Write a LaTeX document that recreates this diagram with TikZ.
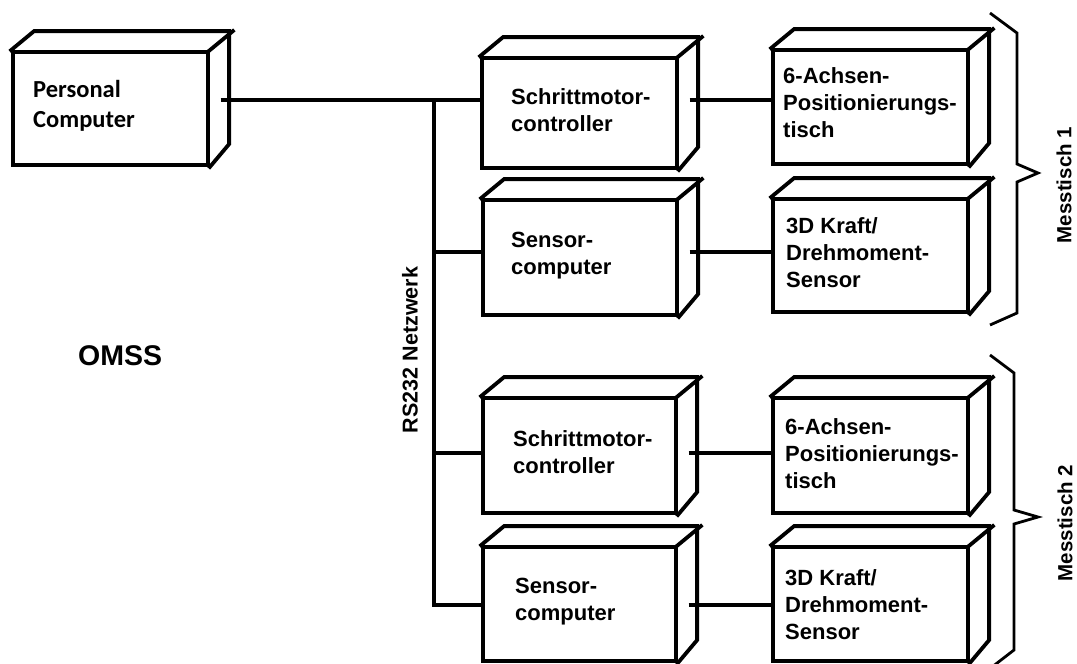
\documentclass[tikz,border=0pt]{standalone}
\usepackage{fontspec}
\setmainfont{Liberation Sans}
\newfontfamily\calibfont{Carlito}
\usetikzlibrary{calc}
\tikzset{
  edge/.style={line width=3.8pt, line join=miter, line cap=rect},
  frontface/.style={edge, draw, inner sep=0pt, fill=white},
  wire/.style={line width=3.3pt},
  bracket/.style={line width=2.8pt, line join=miter},
  boxtext/.style={anchor=north west, inner sep=0pt, align=left,
    font=\fontsize{22}{27}\selectfont\bfseries},
  sidetext/.style={inner sep=0pt, rotate=90, font=\fontsize{20.5}{24}\selectfont\bfseries}
}
\newcommand\dX{23}
\newcommand\dY{-19}
% #1 name, #2 x1, #3 y1, #4 x2, #5 y2, #6 connector y
\newcommand\mycube[6]{%
  \node[frontface, minimum width={(#4-#2)*1pt}, minimum height={(#5-#3)*1pt}]
    (#1) at ({(#2+#4)/2},{(#3+#5)/2}) {};
  \draw[edge] (#1.north west) -- ++(\dX,\dY) -- ++({#4-#2},0) -- ++(0,{#5-#3}) -- (#1.south east);
  \draw[edge] (#1.north east) -- ++(\dX,\dY);
  \coordinate (#1-s) at ({#4+\dX/2+1},#6);
}
\begin{document}
\begin{tikzpicture}[x=1pt,y=-1pt]
\useasboundingbox (0,0) rectangle (1077,664);

\mycube{pc}{13}{52}{208}{165}{100}
\mycube{sca}{482}{58}{677}{168}{100}
\mycube{sea}{483}{200}{677}{315}{252}
\mycube{axa}{773}{50}{968}{164}{100}
\mycube{fsa}{773}{199}{968}{312}{252}
\mycube{scb}{483}{398}{676}{513}{453}
\mycube{seb}{483}{547}{676}{661}{605}
\mycube{axb}{773}{398}{968}{513}{453}
\mycube{fsb}{773}{547}{968}{661}{605}

% texts
\node[anchor=north west, inner sep=0pt, align=left,
      font=\calibfont\fontsize{24.5}{30}\selectfont\bfseries] (pct) at (33,80) {Personal\\Computer};
\node[boxtext] (scat) at (511,88) {Schrittmotor-\\controller};
\node[boxtext] (seat) at (511,232) {Sensor-\\computer};
\node[boxtext] (axat) at (783,67) {6-Achsen-\\Positionierungs-\\tisch};
\node[boxtext] (fsat) at (786,217) {3D Kraft/\\Drehmoment-\\Sensor};
\node[boxtext] (scbt) at (513,430) {Schrittmotor-\\controller};
\node[boxtext] (sebt) at (515,578) {Sensor-\\computer};
\node[boxtext] (axbt) at (785,418) {6-Achsen-\\Positionierungs-\\tisch};
\node[boxtext] (fsbt) at (785,569) {3D Kraft/\\Drehmoment-\\Sensor};

\node[anchor=west, inner sep=0pt, font=\fontsize{28.5}{32}\selectfont\bfseries] (omss) at (78,356) {OMSS};
\node[sidetext, font=\fontsize{21.5}{24}\selectfont\bfseries] (rs) at (410,350) {RS232 Netzwerk};
\node[sidetext] (m1) at (1064,185) {Messtisch 1};
\node[sidetext] (m2) at (1065,523) {Messtisch 2};

% network
\coordinate (busx) at (434,0);
\coordinate (j0) at (busx |- pc-s);
\coordinate (j1) at (busx |- sea-s);
\coordinate (j2) at (busx |- scb-s);
\coordinate (j3) at (busx |- seb-s);
\draw[wire] (pc-s) -- (sca.west |- pc-s);
\draw[wire] (j0) -- (j3) -- (seb.west |- j3);
\draw[wire] (j1) -- (sea.west |- j1);
\draw[wire] (j2) -- (scb.west |- j2);

\draw[wire] (sca-s) -- (axa.west |- sca-s);
\draw[wire] (sea-s) -- (fsa.west |- sea-s);
\draw[wire] (scb-s) -- (axb.west |- scb-s);
\draw[wire] (seb-s) -- (fsb.west |- seb-s);

% braces
\draw[bracket] (990,13) -- (1017,33) -- (1017,164) -- (1038,173) -- (1017,182) -- (1017,313) -- (990,325);
\draw[bracket] (990,355) -- (1014,373) -- (1014,510) -- (1038,517) -- (1014,524) -- (1014,650) -- (992,667);
\end{tikzpicture}
\end{document}
